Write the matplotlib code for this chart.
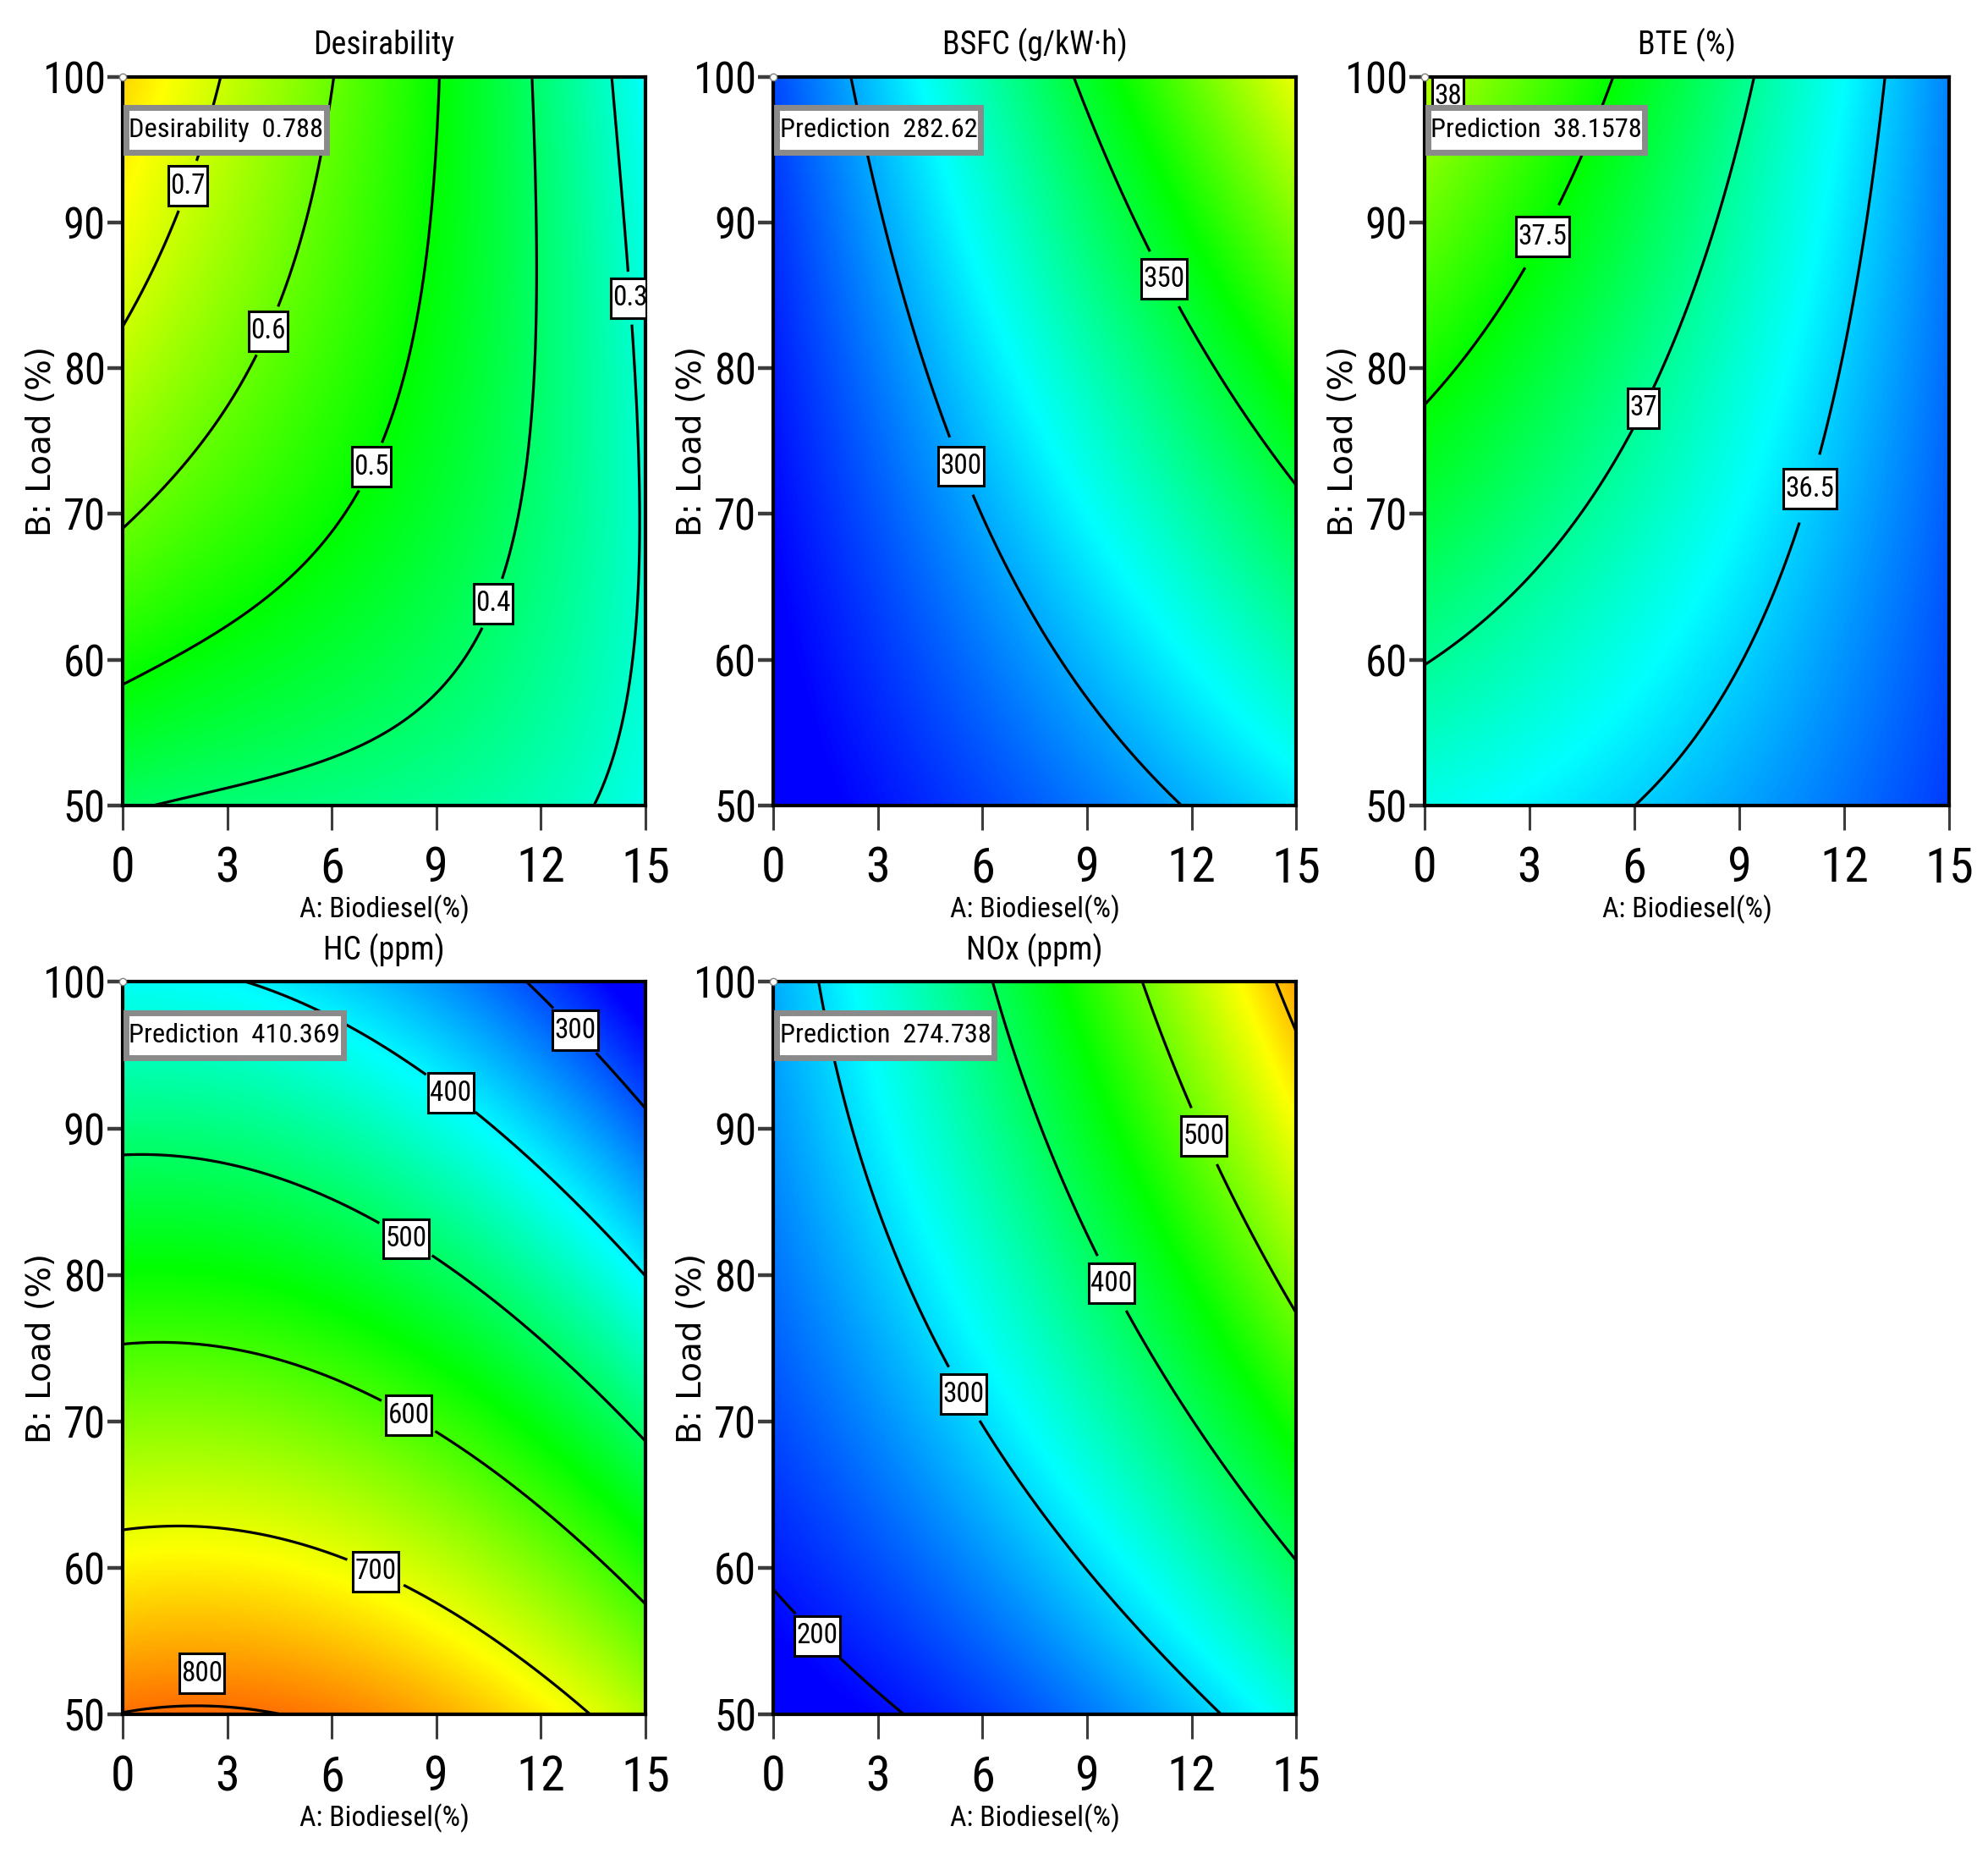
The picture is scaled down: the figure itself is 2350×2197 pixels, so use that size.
import os
import numpy as np
import matplotlib
matplotlib.use("Agg")
import matplotlib.pyplot as plt
from matplotlib import font_manager
from matplotlib.colors import LinearSegmentedColormap

# Desirability
des_z = [0.7, 0.7, 0.7,
         0.6, 0.6, 0.6, 0.6, 0.6,
         0.5, 0.5, 0.5, 0.5, 0.5, 0.5, 0.5,
         0.4, 0.4, 0.4, 0.4, 0.4, 0.4, 0.4, 0.4,
         0.3, 0.3, 0.3, 0.3, 0.3, 0.3,
         0.788, 0.41, 0.27, 0.27, 0.285, 0.285, 0.285]
des_a = [0, 1.61, 2.94,
         0, 1.82, 3.93, 5.17, 6.16,
         0, 2.69, 5.17, 6.9, 8.27, 8.89, 9.07,
         0.7, 5.17, 8.89, 10.5, 11.6, 11.9, 11.86, 11.6,
         13.85, 14.59, 14.78, 14.6, 14.1, 13.7,
         0, 0, 15, 15, 15, 15, 15]
des_b = [83.7, 90.7, 100,
         68.8, 73.8, 82.1, 89.1, 100,
         57.9, 61.9, 66.1, 71.8, 81.0, 89.1, 100,
         50.2, 53.6, 57.7, 62.5, 69, 81, 89.1, 100,
         50, 58.9, 73, 85, 93.1, 100,
         100, 50, 100, 50, 62, 75, 87]

# BSFC
bsfc_z = [300, 300, 300, 300, 300, 300, 300,
          350, 350, 350, 350, 350, 350,
          282.62, 265]
bsfc_a = [2.22, 2.68, 3.67, 4.97, 6.64, 8.61, 11.58,
          8.61, 9.85, 10.84, 12.2, 13.68, 15,
          0, 0]
bsfc_b = [100, 94.4, 85.1, 75.4, 66.9, 59.3, 50,
          100, 93.1, 87.5, 81.9, 76.6, 71.8,
          100, 50]

# BTE
bte_z = [38,
         37.5, 37.5, 37.5, 37.5, 37.5,
         37, 37, 37, 37, 37, 37, 37,
         36.5, 36.5, 36.5, 36.5, 36.5, 36.5, 36.5,
         38.1578, 35.95]
bte_a = [0.95,
         0, 1.67, 2.9, 4.26, 5.25,
         0, 2.29, 4.39, 5.75, 6.98, 8.22, 9.27,
         6.24, 8.46, 10.19, 11.12, 11.68, 12.54, 13.28,
         0, 15]
bte_b = [100,
         77.4, 82.7, 87.5, 93.5, 100,
         60.1, 64.5, 69.8, 76.2, 82.7, 90.7, 100,
         50.2, 55.2, 61.7, 70.2, 77.0, 87.1, 100,
         100, 50]

# HC
hc_z = [300, 300, 300,
        400, 400, 400, 400, 400, 400,
        500, 500, 500, 500, 500, 500, 500,
        600, 600, 600, 600, 600, 600, 600,
        700, 700, 700, 700, 700, 700, 700,
        803, 410.369]
hc_a = [11.62, 13.35, 15,
        3.5, 6.41, 8.89, 11.37, 13.23, 15,
        0, 2.69, 5.79, 8.27, 10.75, 13.23, 15,
        0, 2.69, 5.17, 7.9, 10.75, 13.23, 15,
        0, 1.7, 3.93, 7.03, 9.51, 11.99, 13.23,
        1.8, 0]
hc_b = [100, 95.6, 91.4,
        100, 97.3, 93.2, 88.7, 84.6, 80,
        88.3, 87.6, 85.4, 81.9, 78.0, 72.7, 68.6,
        75.4, 75.0, 73.5, 70.7, 66.6, 61.7, 57.4,
        62.6, 63.0, 62.3, 60.2, 57.2, 53.1, 50,
        50, 100]

# NOx
nox_z = [200, 200, 200,
         300, 300, 300, 300, 300, 300, 300, 300,
         400, 400, 400, 400, 400, 400, 400,
         500, 500, 500, 500, 500,
         600, 600,
         274.738, 176]
nox_a = [0, 1.69, 3.3,
         1.38, 1.94, 2.93, 4.16, 5.65, 7.87, 10.34, 12.5,
         6.26, 7.25, 8.49, 9.97, 11.58, 13.43, 15,
         10.56, 11.58, 12.81, 14.05, 15,
         14.42, 15,
         0, 0]
nox_b = [58.4, 55.1, 50,
         100, 93.2, 83.8, 76.4, 71.1, 64.9, 58.4, 50,
         100, 91.9, 85.0, 77.6, 71.1, 64.9, 60.2,
         100, 94.0, 87.4, 82.1, 77.4,
         100, 96.6,
         100, 50]

a_ticks = [0, 3, 6, 9, 12, 15]
b_ticks = [50, 60, 70, 80, 90, 100]

de_cmap = LinearSegmentedColormap.from_list(
    "de", ["#0000ff", "#00ffff", "#00ff00", "#ffff00", "#ff0000"])

# the reference text is tall and narrow: look for a condensed face
# (file prefix, width relative to Liberation Sans)
candidates = [("NotoSans-ExtraCondensed.", 0.72),
              ("NotoSans-Condensed.", 0.83),
              ("LiberationSansNarrow-Regular", 0.82),
              ("RobotoCondensed-Regular", 0.88),
              ("OpenSans_Condensed-Regular", 0.82),
              ("DejaVuSansCondensed.", 1.03),
              ("LiberationSans-Regular", 1.0)]
font_files = [f.fname for f in font_manager.fontManager.ttflist]
font_path, width_k = None, 1.0
for prefix, k in candidates:
    hits = [f for f in font_files if os.path.basename(f).startswith(prefix)]
    if hits:
        font_path, width_k = hits[0], k
        break


def fp(height_size, width_size):
    size = min(height_size, width_size / width_k)
    if font_path:
        return font_manager.FontProperties(fname=font_path, size=size)
    return font_manager.FontProperties(family="DejaVu Sans", size=width_size)


fp_yt = fp(42, 32)
fp_xt = fp(52, 37)
fp_title = fp(33, 24)
fp_xlab = fp(32, 21.5)
fp_pred = fp(30, 20.5)
fp_lab = fp(30, 21)
fp_ylab = font_manager.FontProperties(family=["DejaVu Sans"], size=28)


def terms(a, b, cubic):
    x = (np.asarray(a, float) - 7.5) / 7.5
    y = (np.asarray(b, float) - 75.0) / 25.0
    t = [np.ones_like(x), x, y, x * y, x ** 2, y ** 2]
    if cubic:
        t += [x ** 3, x * x * y, x * y * y, y ** 3]
    return np.stack(t, axis=-1)


def surface(pa, pb, pz, cubic=False):
    coef = np.linalg.lstsq(terms(pa, pb, cubic), np.asarray(pz, float), rcond=None)[0]
    ag = np.linspace(0, 15, 301)
    bg = np.linspace(50, 100, 301)
    A, B = np.meshgrid(ag, bg)
    return A, B, terms(A, B, cubic) @ coef


# mutation_aspect makes the pad taller than it is wide, like the tall reference boxes
box_style = dict(boxstyle="square,pad=0.07", mutation_aspect=3.2,
                 fc="white", ec="black", lw=2.2)
pred_style = dict(boxstyle="square,pad=0.1", mutation_aspect=3.6,
                  fc="white", ec="#8a8a8a", lw=5)

fig = plt.figure(figsize=(23.5, 21.97), dpi=100)


def panel(rect, title, pa, pb, pz, levels, lab_levels, lab_pos, pred, vmin, vmax, cubic=False):
    ax = fig.add_axes(rect)
    A, B, Z = surface(pa, pb, pz, cubic)
    ax.imshow(Z, extent=(0, 15, 50, 100), origin="lower", aspect="auto",
              cmap=de_cmap, vmin=vmin, vmax=vmax, interpolation="bilinear")
    cs = ax.contour(A, B, Z, levels=levels, colors="black", linewidths=2.3)
    txts = ax.clabel(cs, levels=lab_levels, manual=lab_pos, inline=True,
                     fmt="%g", fontsize=fp_lab.get_size())
    for t in txts:
        t.set_rotation(0)
        t.set_fontproperties(fp_lab)
        t.set_bbox(box_style)
    ax.text(0.012, 0.927, pred, transform=ax.transAxes, fontproperties=fp_pred,
            va="center", ha="left", zorder=6, bbox=pred_style)
    ax.plot([0], [100], marker="o", ms=6, mfc="white", mec="#808080",
            clip_on=False, zorder=7)
    ax.set_xlim(0, 15)
    ax.set_ylim(50, 100)
    ax.set_xticks(a_ticks, labels=[str(v) for v in a_ticks], fontproperties=fp_xt)
    ax.set_yticks(b_ticks, labels=[str(v) for v in b_ticks], fontproperties=fp_yt)
    ax.tick_params(axis="x", direction="out", length=21, width=2.2,
                   color="#3c3c3c", pad=13)
    ax.tick_params(axis="y", direction="out", length=13, width=3.2,
                   color="#3c3c3c", pad=1.5)
    for s in ax.spines.values():
        s.set_linewidth(3)
    ax.set_title(title, fontproperties=fp_title, pad=19)
    ax.set_xlabel("A: Biodiesel(%)", fontproperties=fp_xlab)
    ax.set_ylabel("B: Load (%)", fontproperties=fp_ylab)
    ax.xaxis.label.set_va("center")
    ax.yaxis.label.set_va("center")
    ax.xaxis.set_label_coords(0.5, -0.142)
    ax.yaxis.set_label_coords(-0.155, 0.5)
    return ax


lefts = [0.0617, 0.389, 0.7166]
w = 0.263
top_y, top_h = 0.5667, 0.392
bot_y, bot_h = 0.0778, 0.394

panel([lefts[0], top_y, w, top_h], "Desirability", des_a, des_b, des_z,
      [0.3, 0.4, 0.5, 0.6, 0.7], [0.3, 0.4, 0.5, 0.6, 0.7],
      [(1.66, 92.7), (3.94, 82.8), (6.9, 73.5), (10.47, 64.0), (14.49, 84.8)],
      "Desirability  0.788", 0.0, 1.0, cubic=True)

panel([lefts[1], top_y, w, top_h], "BSFC (g/kW\u00b7h)", bsfc_a, bsfc_b, bsfc_z,
      [300, 350], [300, 350], [(5.61, 73.5), (11.43, 86.4)],
      "Prediction  282.62", 270, 450)

panel([lefts[2], top_y, 0.264, top_h], "BTE (%)", bte_a, bte_b, bte_z,
      [36.5, 37, 37.5, 38], [36.5, 37, 37.5, 38],
      [(3.0, 89.5), (5.72, 77.9), (11.2, 71.6), (0.4, 99.0)],
      "Prediction  38.1578", 35.8, 39.2)

ax_hc = panel([lefts[0], bot_y, w, bot_h], "HC (ppm)", hc_a, hc_b, hc_z,
              [300, 400, 500, 600, 700, 800], [300, 400, 500, 600, 700],
              [(13.33, 97.5), (9.73, 93.4), (8.42, 83.6), (8.49, 71.6), (7.5, 61.0)],
              "Prediction  410.369", 250, 870)
ax_hc.text(2.27, 52.8, "800", fontproperties=fp_lab, ha="center", va="center",
           bbox=box_style, zorder=5)

panel([lefts[1], bot_y, w, bot_h], "NOx (ppm)", nox_a, nox_b, nox_z,
      [200, 300, 400, 500, 600], [200, 300, 400, 500],
      [(1.53, 56.0), (5.71, 72.2), (9.93, 79.7), (12.57, 89.7)],
      "Prediction  274.738", 190, 700)

fig.savefig("out.png", dpi=100, facecolor="white")
